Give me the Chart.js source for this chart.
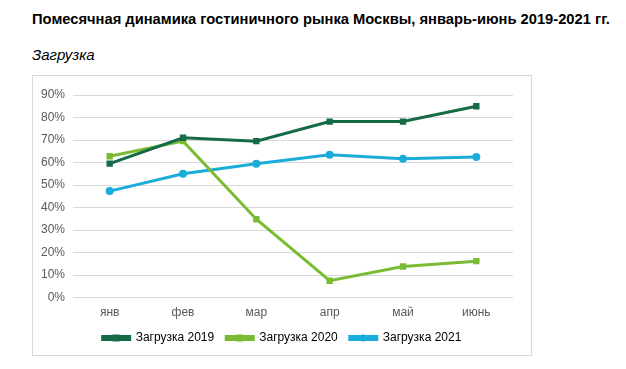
<!DOCTYPE html>
<html>
<head>
<meta charset="utf-8">
<script src="https://cdn.jsdelivr.net/npm/chart.js@4"></script>
<style>
  body { margin: 0; background: #fff; font-family: "Liberation Sans", Arial, sans-serif; }
  #title { position: absolute; left: 32px; top: 11px; font-size: 14.72px; font-weight: bold; color: #000; white-space: nowrap; }
  #sub { position: absolute; left: 32px; top: 46px; font-size: 15px; font-style: italic; color: #000; }
  #box { position: absolute; left: 32px; top: 75px; width: 500px; height: 281px; border: 1px solid #d9d9d9; box-sizing: border-box; }
</style>
</head>
<body>
<div id="title">Помесячная динамика гостиничного рынка Москвы, январь-июнь 2019-2021 гг.</div>
<div id="sub">Загрузка</div>
<div id="box"><canvas id="chart"></canvas></div>
<script>
// Months and occupancy, %
const months = ['янв', 'фев', 'мар', 'апр', 'май', 'июнь'];
const load2019 = [59.5, 71, 69.5, 78.2, 78.2, 85];
const load2020 = [62.8, 69.5, 34.8, 7.5, 13.8, 16.2];
const load2021 = [47.3, 55, 59.5, 63.5, 61.7, 62.5];
const seriesNames = ['Загрузка 2019', 'Загрузка 2020', 'Загрузка 2021'];
const colors = ['#156B45', '#79BC34', '#1AADDA'];

// legend: center it in the whole box, and draw the marker on each line
// (the legend plugin recomputes its hit boxes in afterUpdate, after this shift)
const legendMarkers = {
  id: 'legendMarkers',
  afterLayout(chart) {
    const lg = chart.legend;
    lg.left += 9; lg.right += 9;
  },
  afterDraw(chart) {
    const ctx = chart.ctx;
    const boxes = chart.legend.legendHitBoxes;
    chart.data.datasets.forEach((ds, i) => {
      const b = boxes[i];
      if (!b) return;
      const cx = b.left + 13.5, cy = b.top + b.height / 2;
      ctx.save();
      ctx.fillStyle = ds.borderColor;
      if (ds.pointStyle === 'circle') {
        ctx.beginPath(); ctx.arc(cx, cy, 3.5, 0, Math.PI * 2); ctx.fill();
      } else {
        ctx.fillRect(cx - 3.5, cy - 3.5, 7, 7);
      }
      ctx.restore();
    });
  }
};

const data = [load2019, load2020, load2021];
new Chart(document.getElementById('chart'), {
  type: 'line',
  data: {
    labels: months,
    datasets: data.map((d, i) => ({
      label: seriesNames[i],
      data: d,
      borderColor: colors[i],
      backgroundColor: colors[i],
      borderWidth: 3,
      pointStyle: i === 2 ? 'circle' : 'rect',
      pointRadius: i === 2 ? 4 : 4.5,
      pointBorderWidth: 0,
      tension: 0
    }))
  },
  options: {
    responsive: true,
    maintainAspectRatio: false,
    animation: false,
    layout: { padding: { left: 0, right: 18, top: 19, bottom: 1 } },
    plugins: {
      tooltip: { enabled: false },
      legend: {
        position: 'bottom',
        labels: {
          boxWidth: 27, boxHeight: 3, color: '#000',
          font: { family: 'Liberation Sans', size: 12 },
          padding: 12
        }
      }
    },
    scales: {
      x: {
        offset: true,
        grid: { display: false },
        border: { display: false },
        ticks: { color: '#595959', font: { family: 'Liberation Sans', size: 12 }, padding: 0 }
      },
      y: {
        min: 0, max: 90,
        border: { display: false },
        grid: { color: '#d9d9d9', drawTicks: false },
        ticks: {
          stepSize: 10, padding: 8, color: '#595959',
          font: { family: 'Liberation Sans', size: 12 },
          callback: v => v + '%'
        }
      }
    }
  },
  plugins: [legendMarkers]
});
</script>
</body>
</html>
